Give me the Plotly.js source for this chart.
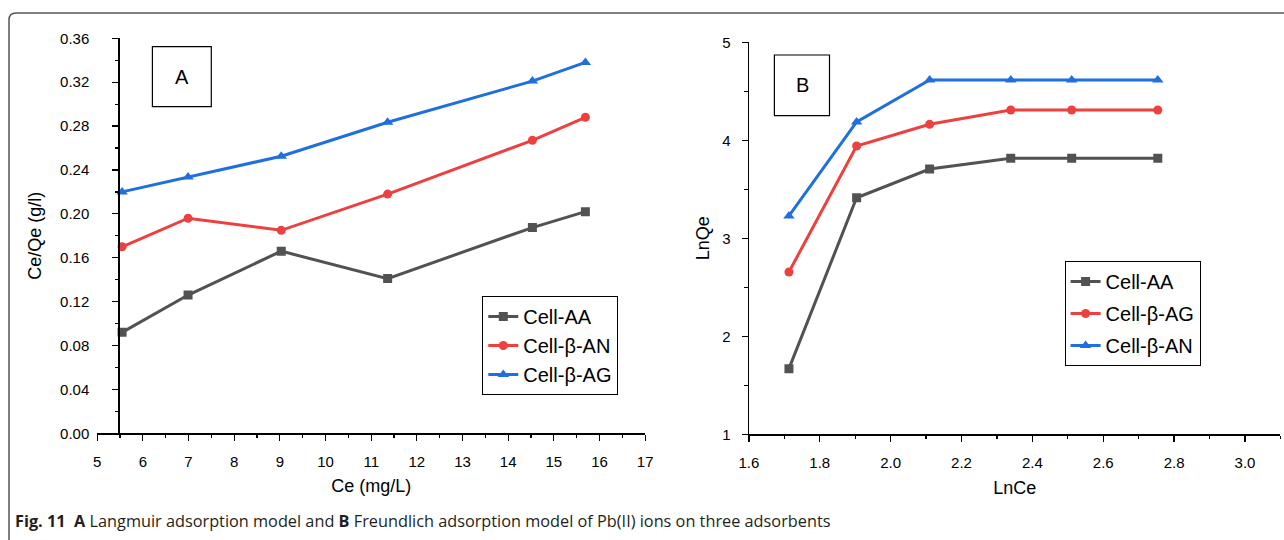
<!DOCTYPE html>
<html>
<head>
<meta charset="utf-8">
<script src="https://cdn.plot.ly/plotly-3.0.1.min.js"></script>
<style>
  html, body { margin: 0; padding: 0; background: #fff; }
  #chart { width: 1284px; height: 540px; }
</style>
</head>
<body>
<div id="chart"></div>
<script>
// ---- Data: panel A (Langmuir) ----
const ceA = [5.545, 6.99, 9.03, 11.36, 14.53, 15.69];
const cellAA_A = [0.092, 0.126, 0.166, 0.141, 0.1875, 0.202];
const cellBAN_A = [0.170, 0.196, 0.185, 0.218, 0.267, 0.288];
const cellBAG_A = [0.220, 0.2335, 0.2525, 0.2835, 0.321, 0.338];
const namesA = ['Cell-AA', 'Cell-β-AN', 'Cell-β-AG'];

// ---- Data: panel B (Freundlich) ----
const lnCeB = [1.713, 1.904, 2.110, 2.339, 2.511, 2.754];
const cellAA_B = [1.67, 3.414, 3.707, 3.816, 3.816, 3.816];
const cellBAG_B = [2.656, 3.942, 4.163, 4.309, 4.309, 4.309];
const cellBAN_B = [3.228, 4.187, 4.615, 4.615, 4.615, 4.615];
const namesB = ['Cell-AA', 'Cell-β-AG', 'Cell-β-AN'];

const caption = '<b>Fig. 11</b>\u00a0\u00a0<b>A</b> Langmuir adsorption model and <b>B</b> Freundlich adsorption model of Pb(II) ions on three adsorbents';

const GRAY = '#525252', RED = '#ef4040', BLUE = '#1f6fe0';
const W = 1284, H = 540;
const px = v => v / W;
const py = v => (H - v) / H;

function tr(x, y, name, color, symbol, size, xa, ya, leg, grp) {
  return {
    x: x, y: y, name: name, type: 'scatter', mode: 'lines+markers',
    line: {color: color, width: 3},
    marker: {color: color, symbol: symbol, size: size},
    xaxis: xa, yaxis: ya, legend: leg, legendgroup: grp
  };
}

const data = [
  tr(ceA, cellAA_A, namesA[0], GRAY, 'square', 9, 'x', 'y', 'legend', 'a1'),
  tr(ceA, cellBAN_A, namesA[1], RED, 'circle', 9, 'x', 'y', 'legend', 'a2'),
  tr(ceA, cellBAG_A, namesA[2], BLUE, 'triangle-up', 10, 'x', 'y', 'legend', 'a3'),
  tr(lnCeB, cellAA_B, namesB[0], GRAY, 'square', 9, 'x2', 'y2', 'legend2', 'b1'),
  tr(lnCeB, cellBAG_B, namesB[1], RED, 'circle', 9, 'x2', 'y2', 'legend2', 'b2'),
  tr(lnCeB, cellBAN_B, namesB[2], BLUE, 'triangle-up', 10, 'x2', 'y2', 'legend2', 'b3')
];

const tickFont = {family: 'Liberation Sans, Arial, sans-serif', size: 15, color: '#000'};
const titleFont = {family: 'Liberation Sans, Arial, sans-serif', size: 18, color: '#000'};
const baseAxis = {
  showgrid: false, zeroline: false, showline: true, linecolor: '#000', linewidth: 1.3,
  ticks: 'outside', ticklen: 6, tickwidth: 1.2, tickcolor: '#000',
  tickfont: tickFont, automargin: false, fixedrange: true
};

const layout = {
  width: W, height: H,
  margin: {l: 0, r: 0, t: 0, b: 0},
  paper_bgcolor: '#fff', plot_bgcolor: 'rgba(0,0,0,0)',
  font: {family: 'Liberation Sans, Arial, sans-serif', color: '#000'},
  showlegend: true,
  xaxis: Object.assign({}, baseAxis, {
    domain: [px(97.2), px(645.2)], range: [5, 17], dtick: 1, tick0: 5,
    anchor: 'y', ticklabelstandoff: 8,
    minor: {dtick: 0.5, ticklen: 3.5, ticks: 'outside', tickcolor: '#000'},
    title: {text: 'Ce (mg/L)', font: titleFont, standoff: 10}
  }),
  yaxis: Object.assign({}, baseAxis, {
    domain: [py(433.3), py(38.3)], range: [0, 0.36], dtick: 0.04, tick0: 0,
    tickformat: '.2f', anchor: 'free', position: px(118.3), ticklabelstandoff: 20,
    minor: {dtick: 0.02, ticklen: 3.5, ticks: 'outside', tickcolor: '#000'},
    title: {text: 'Ce/Qe (g/l)', font: titleFont, standoff: 12}
  }),
  xaxis2: Object.assign({}, baseAxis, {
    domain: [px(748.9), px(1280.4)], range: [1.6, 3.1], dtick: 0.2, tick0: 1.6,
    tickformat: '.1f', anchor: 'y2', ticklabelstandoff: 8,
    minor: {dtick: 0.1, ticklen: 3.5, ticks: 'outside', tickcolor: '#000'},
    title: {text: 'LnCe', font: titleFont, standoff: 11}
  }),
  yaxis2: Object.assign({}, baseAxis, {
    domain: [py(434.3), py(42.3)], range: [1, 5], dtick: 1, tick0: 1,
    anchor: 'x2', ticklabelstandoff: 8,
    minor: {dtick: 0.5, ticklen: 3.5, ticks: 'outside', tickcolor: '#000'},
    title: {text: 'LnQe', font: titleFont, standoff: 8}
  }),
  legend: {
    x: px(482.3), y: py(296), xanchor: 'left', yanchor: 'top',
    bgcolor: '#fff', bordercolor: '#000', borderwidth: 1,
    font: {family: 'Liberation Sans, Arial, sans-serif', size: 20, color: '#000'},
    traceorder: 'normal', itemclick: false, itemdoubleclick: false
  },
  legend2: {
    x: px(1064.6), y: py(261), xanchor: 'left', yanchor: 'top',
    bgcolor: '#fff', bordercolor: '#000', borderwidth: 1,
    font: {family: 'Liberation Sans, Arial, sans-serif', size: 20, color: '#000'},
    traceorder: 'grouped', tracegroupgap: 3, itemclick: false, itemdoubleclick: false
  },
  shapes: [
    {type: 'rect', xref: 'paper', yref: 'paper', x0: px(152.4), x1: px(211.3), y0: py(106.7), y1: py(46.7),
     line: {color: '#000', width: 1.2}, fillcolor: 'rgba(0,0,0,0)'},
    {type: 'rect', xref: 'paper', yref: 'paper', x0: px(774.4), x1: px(829.5), y0: py(115.7), y1: py(55),
     line: {color: '#000', width: 1.2}, fillcolor: 'rgba(0,0,0,0)'},
    {type: 'path', xref: 'paper', yref: 'paper',
     path: 'M ' + px(9) + ',' + py(541) + ' L ' + px(9) + ',' + py(20) + ' Q ' + px(9) + ',' + py(13) + ' ' + px(16) + ',' + py(13) + ' L ' + px(1290) + ',' + py(13),
     line: {color: '#555', width: 1.5}}
  ],
  annotations: [
    {xref: 'paper', yref: 'paper', x: px(181.8), y: py(76.7), text: 'A', showarrow: false,
     xanchor: 'center', yanchor: 'middle', font: {family: 'Liberation Sans, Arial, sans-serif', size: 20, color: '#000'}},
    {xref: 'paper', yref: 'paper', x: px(802), y: py(85.3), text: 'B', showarrow: false,
     xanchor: 'center', yanchor: 'middle', font: {family: 'Liberation Sans, Arial, sans-serif', size: 20, color: '#000'}},
    {xref: 'paper', yref: 'paper', x: px(13), y: py(521), text: caption, showarrow: false,
     xanchor: 'left', yanchor: 'middle', align: 'left',
     font: {family: 'Open Sans, Noto Sans, sans-serif', size: 16.3, color: '#231f20'}}
  ]
};

Plotly.newPlot('chart', data, layout, {displayModeBar: false, staticPlot: true});
</script>
</body>
</html>
